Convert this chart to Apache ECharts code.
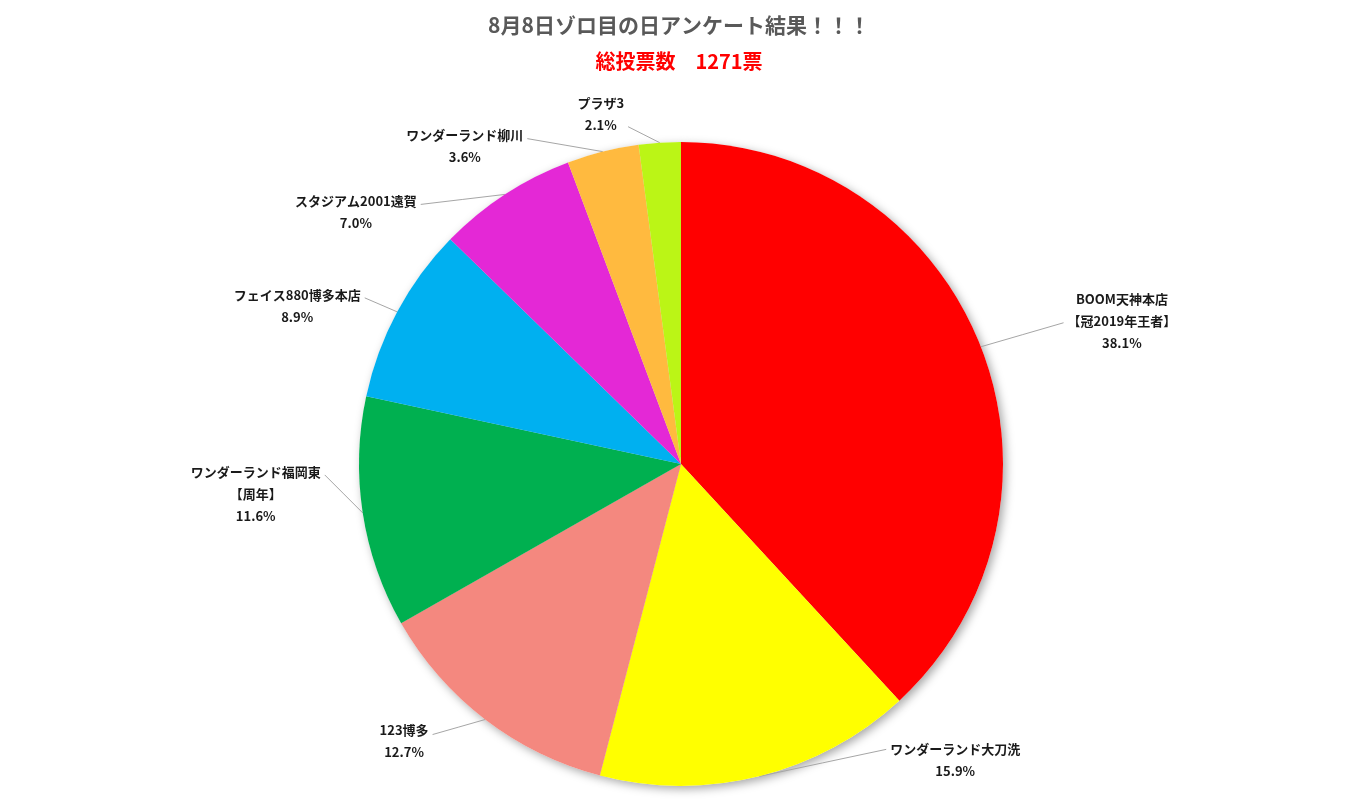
<!DOCTYPE html>
<html>
<head>
<meta charset="utf-8">
<script src="https://cdn.jsdelivr.net/npm/echarts@6/dist/echarts.min.js"></script>
<style>
html,body{margin:0;padding:0;background:#fff;}
#chart{width:1358px;height:811px;}
</style>
</head>
<body>
<div id="chart"></div>
<script>
const titleText = '8月8日ゾロ目の日アンケート結果！！！';
const subtitleText = '総投票数　1271票';
const categories = ['BOOM天神本店\n【冠2019年王者】', 'ワンダーランド大刀洗', '123博多', 'ワンダーランド福岡東\n【周年】', 'フェイス880博多本店', 'スタジアム2001遠賀', 'ワンダーランド柳川', 'プラザ3'];
const shares = [38.1, 15.9, 12.7, 11.6, 8.9, 7.0, 3.6, 2.1];
const colors = ['#FF0000', '#FFFF00', '#F4887F', '#00B050', '#00B0F0', '#E428D6', '#FFBA3F', '#BBF516'];
// label placement tweaks: [dx of label centre from slice edge, dy, leader end dy from label centre]
const labelOffsets = [[141,-26,2],[196,-16,-11],[-81,22,-7],[-107,-19,-19],[-100,-6,-8],[-149,18,-8],[-138,-6,-7],[-59,-29,13]];

const chart = echarts.init(document.getElementById('chart'));
const data = categories.map((c, i) => ({ name: c, value: shares[i], itemStyle: { color: colors[i] } }));

chart.setOption({
  backgroundColor: '#fff',
  animation: false,
  title: [
    { text: titleText, left: 'center', top: 10, textStyle: { fontFamily: 'Noto Sans CJK JP', fontSize: 21, fontWeight: 'bold', color: '#595959' } },
    { text: subtitleText, left: 'center', top: 46, textStyle: { fontFamily: 'Noto Sans CJK JP', fontSize: 20, fontWeight: 'bold', color: '#FF0000' } }
  ],
  series: [
    {
      type: 'pie',
      silent: true,
      z: 1,
      center: [681, 464],
      radius: 322,
      startAngle: 90,
      label: { show: false },
      labelLine: { show: false },
      itemStyle: { color: '#fff', shadowBlur: 10, shadowColor: 'rgba(0,0,0,0.35)', shadowOffsetX: 3, shadowOffsetY: 3 },
      data: shares.map((v, i) => ({ name: categories[i], value: v }))
    },
    {
      type: 'pie',
      z: 2,
      center: [681, 464],
      radius: 322,
      startAngle: 90,
      clockwise: true,
      avoidLabelOverlap: false,
      emphasis: { disabled: true },
      label: {
        show: true,
        position: 'outside',
        fontFamily: 'Noto Sans CJK JP',
        fontSize: 13,
        fontWeight: 'bold',
        color: '#1a1a1a',
        lineHeight: 22,
        formatter: p => p.name + '\n' + p.value.toFixed(1) + '%'
      },
      labelLine: { show: true, length: 10, length2: 10, lineStyle: { color: '#A6A6A6', width: 1 } },
      labelLayout: function (params) {
        const i = params.dataIndex;
        const o = labelOffsets[i];
        const start = params.labelLinePoints[0];
        const cx = start[0] + o[0];
        const cy = start[1] + o[1];
        const w = params.labelRect.width;
        const right = o[0] > 0;
        const ex = right ? cx - w / 2 - 4 : cx + w / 2 + 4;
        const ey = cy + o[2];
        return {
          x: cx, y: cy, align: 'center', verticalAlign: 'middle',
          labelLinePoints: [[start[0], start[1]], [(start[0] + ex) / 2, (start[1] + ey) / 2], [ex, ey]]
        };
      },
      data: data
    }
  ]
});
</script>
</body>
</html>
